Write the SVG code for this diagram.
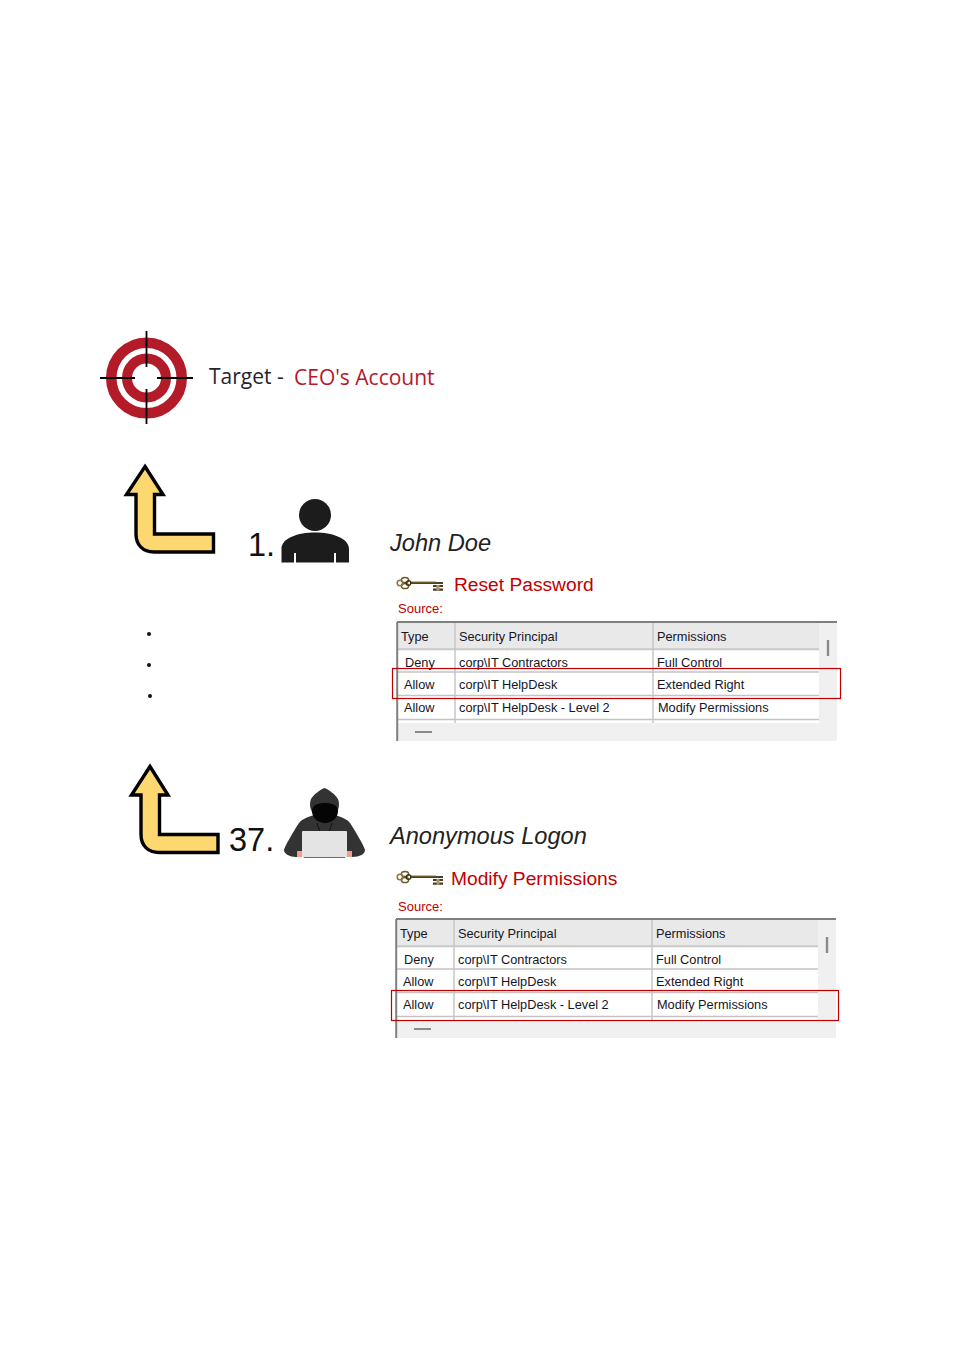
<svg xmlns="http://www.w3.org/2000/svg" width="960" height="1346" viewBox="0 0 960 1346">
<style>
text{font-family:"Liberation Sans",Arial,sans-serif;fill:#1a1a1a}
.t{font-size:12.75px;fill:#15151f}
.who{font-size:23.6px;font-style:italic;fill:#222}
.num{font-size:32.5px;fill:#111}
.act{font-size:19.2px;fill:#c00000}
.src{font-size:13px;fill:#c00000}
.hl{fill:none;stroke:#c00000;stroke-width:1.2}
.grid{stroke:#c4c4c4;stroke-width:1.4;fill:none}
.arrow{fill:#fdd76f;stroke:#000;stroke-width:3.4;stroke-linejoin:miter}
</style>
<defs>
<g id="key">
<path d="M15 5H47" stroke="#3a2c10" stroke-width="1.800" fill="none"/>
<path d="M15 3.800H40" stroke="#b8913a" stroke-width=".9" fill="none"/>
<ellipse cx="9" cy="2" rx="3.600" ry="2.600" fill="none" stroke="#6d5a2a" stroke-width="1.500"/>
<ellipse cx="9" cy="8" rx="3.600" ry="2.600" fill="none" stroke="#6d5a2a" stroke-width="1.500"/>
<circle cx="4" cy="5" r="2.800" fill="none" stroke="#8a7438" stroke-width="1.500"/>
<circle cx="12.500" cy="5" r="2.300" fill="none" stroke="#3a2c10" stroke-width="1.300"/>
<path d="M37 7h10v2H37zM37 10.500h10v2.200H37z" fill="#4a3d1c"/>
<path d="M40.500 7h3v5.700h-3z" fill="#a39a78"/>
</g>
<g id="tbl">
<rect x="398" y="623" width="439" height="118" fill="#f0f0f0"/>
<rect x="398" y="623" width="421" height="26" fill="#e9e9e9"/>
<rect x="398" y="650" width="421" height="73" fill="#fff"/>
<path d="M398 649.3H819" stroke="#c8c8c8" stroke-width="2"/>
<path class="grid" d="M398 672H819M398 695.5H819M398 719.5H819M455 623V723M653 623V723"/>
<path d="M397 622H837" stroke="#7f7f7f" stroke-width="2"/>
<path d="M397.200 622V741" stroke="#7f7f7f" stroke-width="2"/>
<path d="M828 640V656" stroke="#8a8a8a" stroke-width="2.400"/>
<path d="M415 732H432" stroke="#8a8a8a" stroke-width="2"/>
</g>
</defs>

<g id="target">
<circle cx="146.500" cy="378" r="35.250" fill="none" stroke="#b31b29" stroke-width="10.500"/>
<circle cx="146.500" cy="378" r="19.500" fill="none" stroke="#b31b29" stroke-width="10"/>
<path d="M100 378H135M157 378H193M146.500 331V367M146.500 389V424" stroke="#000" stroke-width="1.800" fill="none"/>
<text x="209" y="384" style="font-family:'Open Sans',sans-serif;font-size:21px;fill:#1f2430">Target -</text>
<text x="294" y="385" style="font-family:'Open Sans',sans-serif;font-size:21px;fill:#b5182b">CEO's Account</text>
</g>

<g id="connectors">
<path class="arrow" d="M145 466.500L163 494.500H154.500V534H213.500V552H154C143 552 136 545 136 534V494.500H126.500Z"/>
<path class="arrow" d="M150 766.500L168 795H159.500V834.500H218V852.500H159C148 852.500 141 845.500 141 834.500V795H131.500Z"/>
</g>

<g id="bullets">
<circle cx="149" cy="634" r="2" fill="#111"/>
<circle cx="149" cy="665" r="2" fill="#111"/>
<circle cx="150" cy="696" r="2" fill="#111"/>
</g>

<g id="john-doe">
<text class="num" x="248" y="556">1.</text>
<circle cx="315" cy="515" r="16" fill="#1c1c1c"/>
<path d="M281.500 562.500V549C281.500 538 298 532.500 315 532.500S349 538 349 549V562.500H336V553H334V562.500H296V553H294V562.500Z" fill="#1c1c1c"/>
<text class="who" x="390" y="551">John Doe</text>
<use href="#key" x="396" y="578"/>
<text class="act" x="454" y="591">Reset Password</text>
<text class="src" x="398" y="613">Source:</text>
<use href="#tbl"/>
<text class="t" x="401" y="641">Type</text><text class="t" x="459" y="641">Security Principal</text><text class="t" x="657" y="641">Permissions</text>
<text class="t" x="405" y="667">Deny</text><text class="t" x="459" y="667">corp\IT Contractors</text><text class="t" x="657" y="667">Full Control</text>
<text class="t" x="404" y="689">Allow</text><text class="t" x="459" y="689">corp\IT HelpDesk</text><text class="t" x="657" y="689">Extended Right</text>
<text class="t" x="404" y="712">Allow</text><text class="t" x="459" y="712">corp\IT HelpDesk - Level 2</text><text class="t" x="658" y="712">Modify Permissions</text>
<rect class="hl" x="392.500" y="668.500" width="448" height="30"/>
</g>

<g id="anonymous-logon">
<text class="num" x="229" y="851">37.</text>
<path d="M284 850C285 846 293 832 299 823C302 819 308 817 314 815C310 810 309 804 311 799C314 794 320 790 324.500 788C329 790 335 794 338 799C340 804 339 810 335 815C341 817 347 819 350 823C356 832 364 846 365 850C365 854 360 857 352 857H296C290 857 284 854 284 850Z" fill="#333"/>
<path d="M312 811C312 805 318 803 325 803C332 803 338 805 338 811C338 818 332 823 325 823C318 823 312 818 312 811Z" fill="#050505"/>
<path d="M317 823C318 827 319 829 320 831M332 823C331 827 330 829 329 831" stroke="#111" stroke-width="1" fill="none"/>
<rect x="302" y="831" width="45" height="27" rx="1" fill="#e4e4e4"/>
<path d="M304 857.500H345" stroke="#e53935" stroke-width="1.200"/>
<path d="M297 851h5v6h-5zM347 851h5v6h-5z" fill="#eda18c"/>
<text class="who" x="390" y="844">Anonymous Logon</text>
<use href="#key" x="396" y="872"/>
<text class="act" x="451" y="885">Modify Permissions</text>
<text class="src" x="398" y="911">Source:</text>
<use href="#tbl" x="-1" y="297"/>
<text class="t" x="400" y="938">Type</text><text class="t" x="458" y="938">Security Principal</text><text class="t" x="656" y="938">Permissions</text>
<text class="t" x="404" y="964">Deny</text><text class="t" x="458" y="964">corp\IT Contractors</text><text class="t" x="656" y="964">Full Control</text>
<text class="t" x="403" y="986">Allow</text><text class="t" x="458" y="986">corp\IT HelpDesk</text><text class="t" x="656" y="986">Extended Right</text>
<text class="t" x="403" y="1009">Allow</text><text class="t" x="458" y="1009">corp\IT HelpDesk - Level 2</text><text class="t" x="657" y="1009">Modify Permissions</text>
<rect class="hl" x="391.500" y="990.500" width="447" height="30"/>
</g>
</svg>
